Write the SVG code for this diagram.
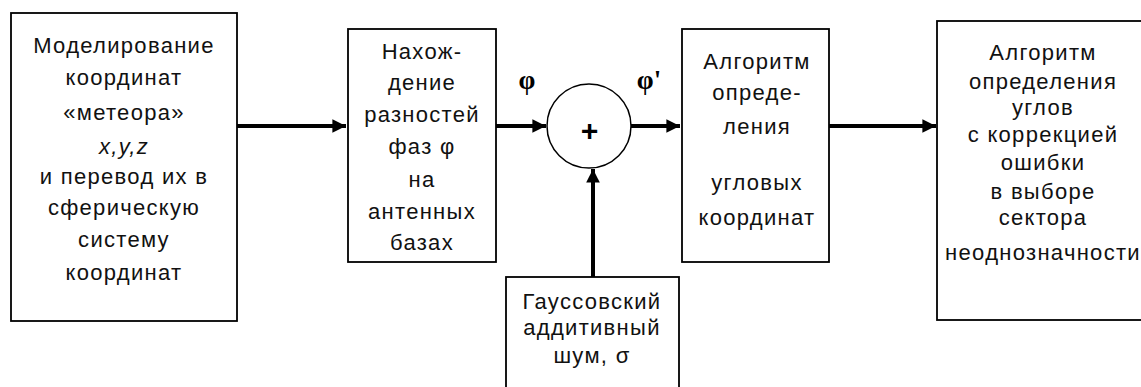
<svg xmlns="http://www.w3.org/2000/svg" width="1141" height="387" viewBox="0 0 1141 387">
<style>
.box{fill:#fff;stroke:#000;stroke-width:1.8}
.t{font-family:"Liberation Sans",Arial,sans-serif;font-size:22px;letter-spacing:1.3px;fill:#111;text-anchor:middle}
.c{fill:none;stroke:#000;stroke-width:4}
.lbl{font-family:"Liberation Serif","Times New Roman",serif;font-size:27px;font-weight:bold;fill:#000;text-anchor:middle}
</style>
<defs>
<marker id="ah" viewBox="0 0 10 10" refX="10" refY="5" markerWidth="3.4" markerHeight="4" orient="auto" markerUnits="strokeWidth">
<path d="M0,0 L10,5 L0,10 z" fill="#000"/>
</marker>
</defs>
<rect width="1141" height="387" fill="#fff"/>
<g id="connectors">
<line class="c" x1="237" y1="126" x2="346" y2="126" marker-end="url(#ah)"/>
<line class="c" x1="496" y1="126" x2="546" y2="126" marker-end="url(#ah)"/>
<line class="c" x1="631" y1="126" x2="680" y2="126" marker-end="url(#ah)"/>
<line class="c" x1="829" y1="126" x2="936" y2="126" marker-end="url(#ah)"/>
<line class="c" x1="593" y1="277" x2="593" y2="169" marker-end="url(#ah)"/>
</g>
<g id="node-model">
<rect class="box" x="11" y="13" width="226" height="308"/>
<text class="t" x="124" y="53">Моделирование</text>
<text class="t" x="124" y="85">координат</text>
<text class="t" x="124" y="120">«метеора»</text>
<text class="t" x="124" y="154" font-style="italic">x,y,z</text>
<text class="t" x="124" y="184">и перевод их в</text>
<text class="t" x="124" y="215">сферическую</text>
<text class="t" x="124" y="247">систему</text>
<text class="t" x="124" y="280">координат</text>
</g>
<g id="node-phase">
<rect class="box" x="348" y="29" width="148" height="233"/>
<text class="t" x="422" y="59">Нахож-</text>
<text class="t" x="422" y="90">дение</text>
<text class="t" x="422" y="122">разностей</text>
<text class="t" x="422" y="154">фаз φ</text>
<text class="t" x="422" y="187">на</text>
<text class="t" x="422" y="219">антенных</text>
<text class="t" x="422" y="250">базах</text>
</g>
<g id="node-sum">
<circle cx="589" cy="126" r="42" fill="#fff" stroke="#000" stroke-width="1.5"/>
<text x="589" y="141" font-family="Liberation Sans,Arial,sans-serif" font-size="30" font-weight="bold" font-style="italic" text-anchor="middle">+</text>
</g>
<g id="labels">
<text class="lbl" x="527" y="89">φ</text>
<text class="lbl" x="649" y="89">φ'</text>
</g>
<g id="node-noise">
<rect class="box" x="506" y="277" width="173" height="115"/>
<text class="t" x="592" y="309">Гауссовский</text>
<text class="t" x="592" y="335">аддитивный</text>
<text class="t" x="592" y="363">шум,  σ</text>
</g>
<g id="node-angles">
<rect class="box" x="682" y="29" width="147" height="233"/>
<text class="t" x="757" y="69">Алгоритм</text>
<text class="t" x="757" y="100">опреде-</text>
<text class="t" x="757" y="134">ления</text>
<text class="t" x="757" y="190">угловых</text>
<text class="t" x="757" y="225">координат</text>
</g>
<g id="node-correction">
<rect class="box" x="937" y="21" width="210" height="299"/>
<text class="t" x="1043" y="60">Алгоритм</text>
<text class="t" x="1043" y="89">определения</text>
<text class="t" x="1043" y="115">углов</text>
<text class="t" x="1043" y="142">с коррекцией</text>
<text class="t" x="1043" y="170">ошибки</text>
<text class="t" x="1043" y="199">в выборе</text>
<text class="t" x="1043" y="225">сектора</text>
<text class="t" x="1043" y="260">неоднозначности</text>
</g>
</svg>
